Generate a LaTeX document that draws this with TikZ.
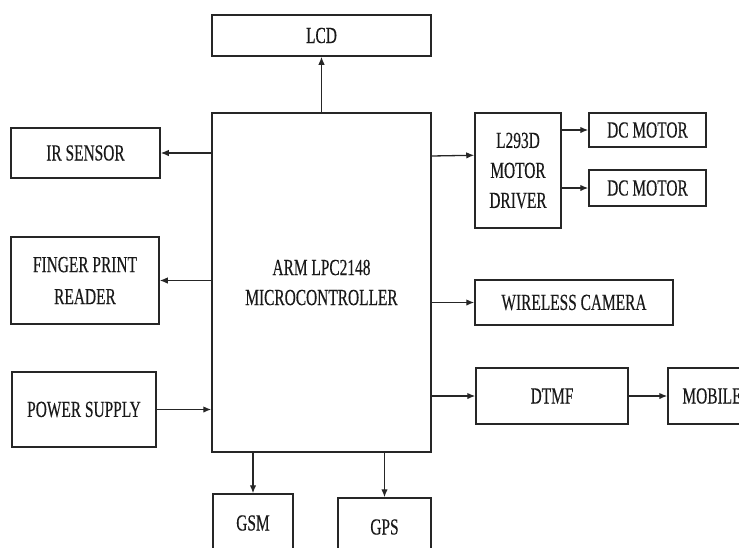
\documentclass[tikz,border=0pt]{standalone}
\usepackage{fontspec}
\setmainfont{Liberation Serif}[FakeStretch=0.67,FakeBold=0.3]
\usetikzlibrary{arrows.meta}
\begin{document}
\begin{tikzpicture}[x=1pt,y=-1pt,
  blk/.style={draw=black!85,line width=1.5pt,inner sep=0pt,align=center,
    font=\fontsize{23}{30}\selectfont,text=black!90},
  arr/.style={draw=black!85,line width=1.3pt,-{Latex[length=8pt,width=6.5pt]}}]
\useasboundingbox (0,0) rectangle (739,547);
\clip (0,0) rectangle (739,547);
% boxes
\node[blk,minimum width=219pt,minimum height=41pt] (lcd) at (321.5,35.5) {LCD};
\node[blk,minimum width=219pt,minimum height=339pt] (mcu) at (321.5,282.5) {ARM LPC2148\\MICROCONTROLLER};
\node[blk,minimum width=149pt,minimum height=50pt] (ir) at (85.5,153) {IR SENSOR};
\node[blk,minimum width=148pt,minimum height=87pt,font=\fontsize{23}{32}\selectfont] (fp) at (85,280.5) {FINGER PRINT\\READER};
\node[blk,minimum width=144pt,minimum height=75pt] (ps) at (84,409.5) {POWER SUPPLY};
\node[blk,minimum width=86pt,minimum height=115pt] (drv) at (518,170.5) {\raisebox{-5pt}{\parbox{80pt}{\centering L293D\\MOTOR\\DRIVER}}};
\node[blk,minimum width=117pt,minimum height=34pt] (dc1) at (647.5,130) {DC MOTOR};
\node[blk,minimum width=117pt,minimum height=36pt] (dc2) at (647.5,188) {DC MOTOR};
\node[blk,minimum width=198pt,minimum height=45pt] (cam) at (574,302.5) {WIRELESS CAMERA};
\node[blk,minimum width=152pt,minimum height=56pt] (dtmf) at (552,396) {DTMF};
\node[blk,minimum width=88pt,minimum height=56pt] (mob) at (712,396) {MOBILE};
\node[blk,minimum width=80pt,minimum height=58pt] (gsm) at (253,523) {GSM};
\node[blk,minimum width=93pt,minimum height=58pt] (gps) at (384.5,527) {GPS};
% connectors
\draw[arr] (mcu.north) -- (lcd.south);
\draw[arr] (mcu.west |- ir.east) -- (ir.east);
\draw[arr] (mcu.west |- fp.east) -- (fp.east);
\draw[arr] (ps.east) -- (mcu.west |- ps.east);
\draw[arr] (mcu.east |- 0,156) -- ([yshift=-43pt]drv.north west);
\draw[arr] (drv.east |- dc1.west) -- (dc1.west);
\draw[arr] (drv.east |- dc2.west) -- (dc2.west);
\draw[arr] (mcu.east |- cam.west) -- (cam.west);
\draw[arr] (mcu.east |- dtmf.west) -- (dtmf.west);
\draw[arr] (dtmf.east) -- (mob.west);
\draw[arr] (mcu.south -| gsm.north) -- (gsm.north);
\draw[arr] (mcu.south -| gps.north) -- (gps.north);
\end{tikzpicture}
\end{document}
